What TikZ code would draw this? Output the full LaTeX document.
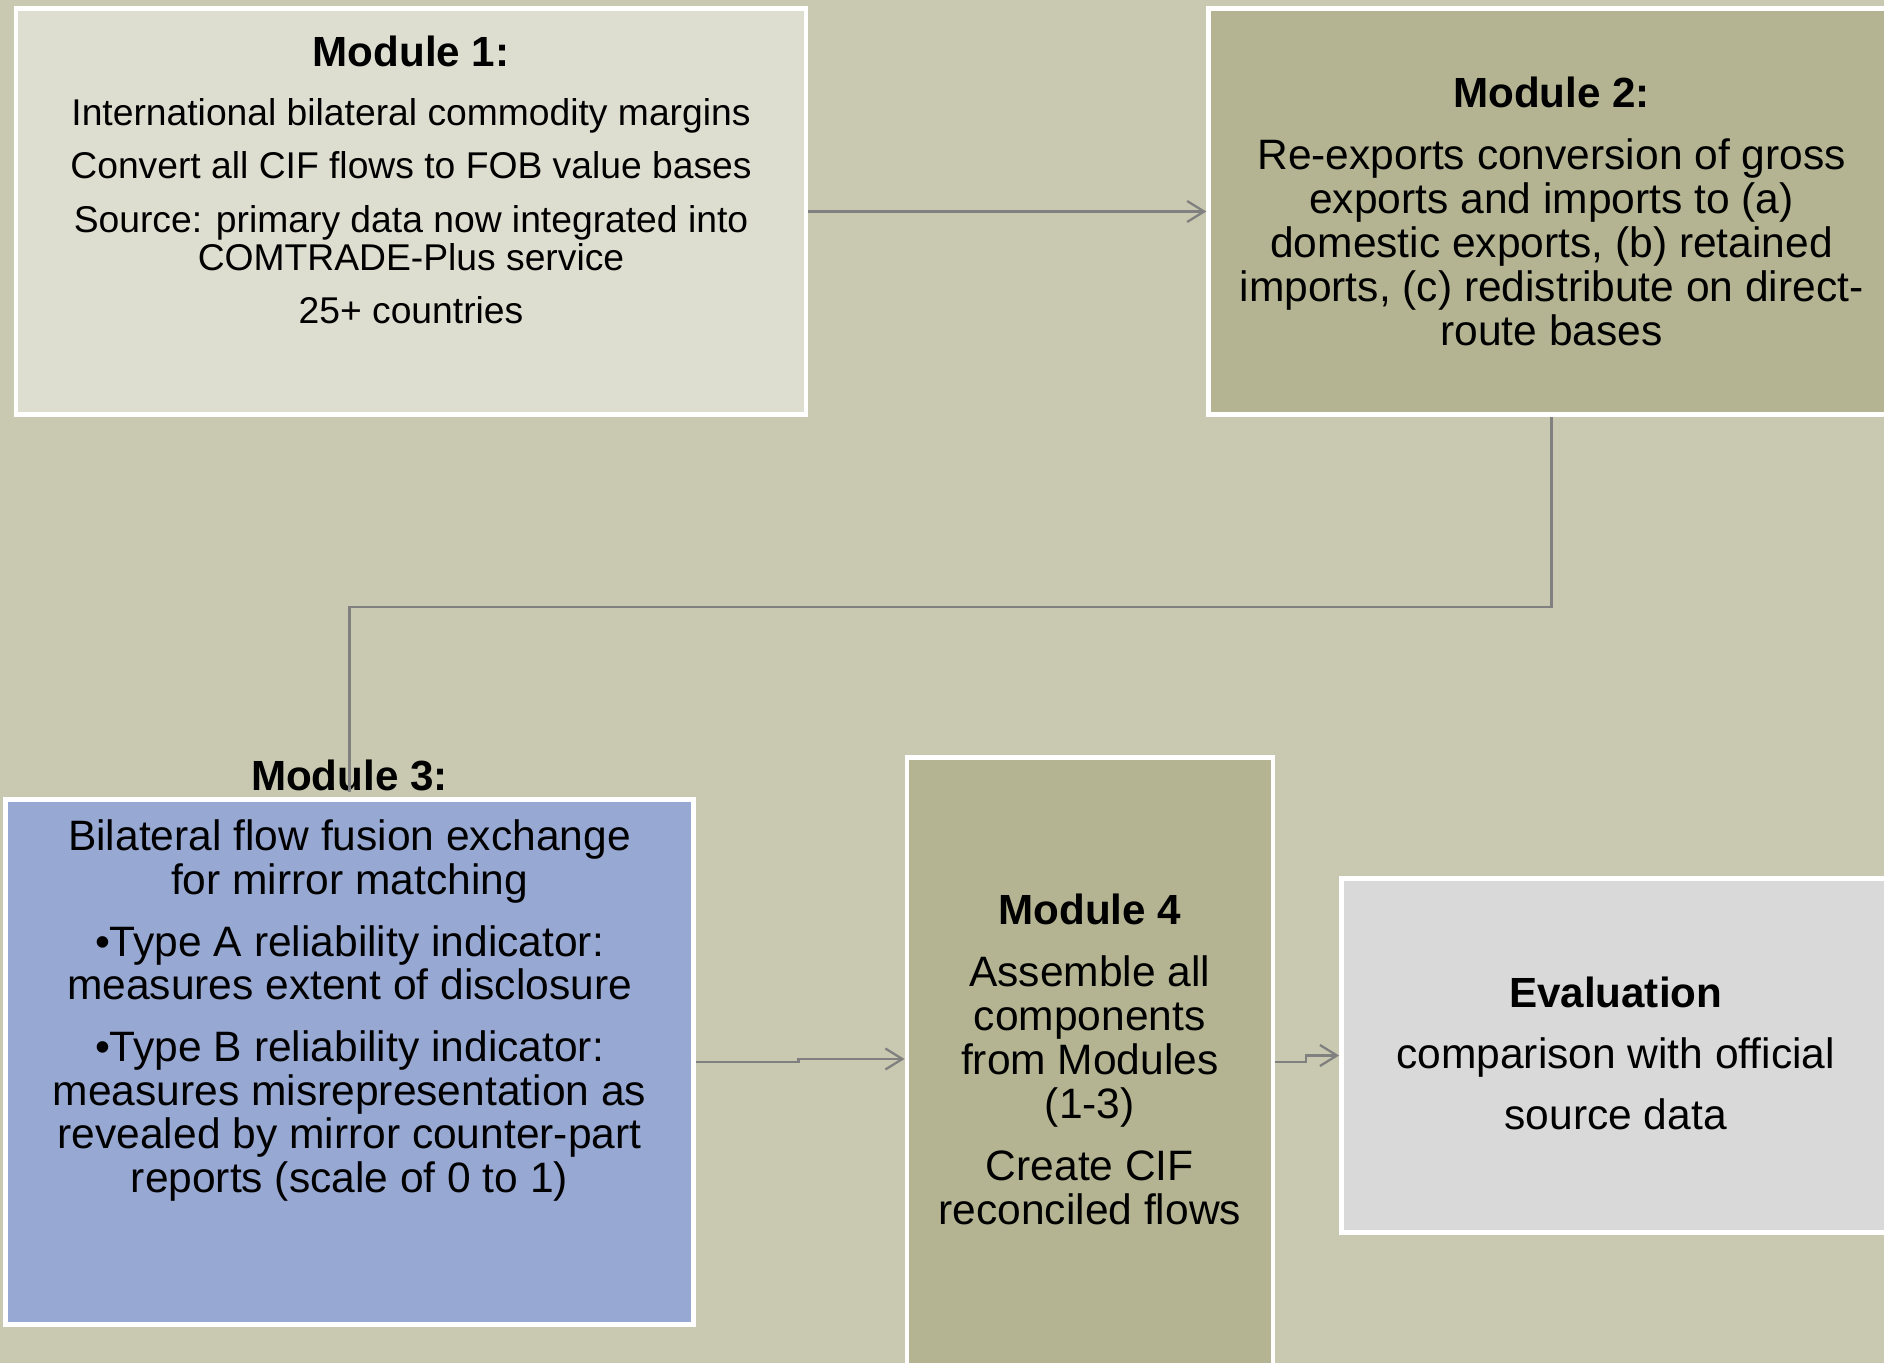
\documentclass[tikz,border=0pt]{standalone}
\usepackage{fontspec}
\setmainfont{Liberation Sans}
\usepackage{tikz}
\usetikzlibrary{arrows.meta, calc, positioning}

\definecolor{sage}{RGB}{200,201,176}
\definecolor{paleolive}{RGB}{221,222,208}
\definecolor{olive}{RGB}{180,180,146}
\definecolor{lavender}{RGB}{151,168,210}
\definecolor{lightgrey}{RGB}{217,217,217}
\definecolor{linegrey}{RGB}{128,128,128}

\newcommand{\mhead}[1]{{\fontsize{12}{12}\selectfont\bfseries #1}}

\begin{document}
\begin{tikzpicture}[>={Straight Barb[length=1.7mm, width=2.1mm]}, node distance=1cm]
	\tikzstyle{module} = [draw=white, line width=1.3pt, rectangle, align=center, inner sep=0pt]
	\tikzstyle{small} = [font=\fontsize{10.6}{10.9}\selectfont]
	\tikzstyle{body} = [font=\fontsize{12.1}{12.5}\selectfont]
	\tikzstyle{link} = [draw=linegrey, line width=0.65pt]

	\path[use as bounding box, fill=sage] (0,0) rectangle (18.84,-13.63);

	\begin{scope}
		\path[->, link]
			node[module, small, fill=paleolive, minimum width=7.9cm, minimum height=4.065cm, text depth=0.63cm] (m1) at (4.11,-2.115)
				{\mhead{Module 1:}\\[5.8pt]
				International bilateral commodity margins\\[4.3pt]
				Convert all CIF flows to FOB value bases\\[4.3pt]
				Source: primary data now integrated into\\
				COMTRADE-Plus service\\[4.3pt]
				25+ countries}
			node[module, body, fill=olive, minimum width=6.86cm, minimum height=4.065cm, right=3.98cm of m1] (m2)
				{\mhead{Module 2:}\\[5.3pt]
				Re-exports conversion of gross\\
				exports and imports to (a)\\
				domestic exports, (b) retained\\
				imports, (c) redistribute on direct-\\
				route bases}
			node[module, body, fill=lavender, minimum width=6.875cm, minimum height=5.255cm, text depth=1.11cm] (m3) at (3.495,-10.62)
				{Bilateral flow fusion exchange\\
				for mirror matching\\[4.9pt]
				\textbullet Type A reliability indicator:\\
				measures extent of disclosure\\[4.9pt]
				\textbullet Type B reliability indicator:\\
				measures misrepresentation as\\
				revealed by mirror counter-part\\
				reports (scale of 0 to 1)}
			node[inner sep=0pt, above=0.05cm of m3] (m3head) {\mhead{Module 3:}}
			node[module, body, fill=olive, minimum width=3.66cm, minimum height=6.085cm, text depth=0.064cm, right=2.09cm of m3] (m4)
				{\mhead{Module 4}\\[5.2pt]
				Assemble all\\
				components\\
				from Modules\\
				(1-3)\\[5.2pt]
				Create CIF\\
				reconciled flows}
			node[module, font=\fontsize{12.1}{17.4}\selectfont, fill=lightgrey, minimum width=5.485cm, minimum height=3.535cm, text depth=0.05cm, right=0.64cm of m4, yshift=0.065cm] (m5)
				{\mhead{Evaluation}\\
				comparison with official\\
				source data}

			(m1) edge (m2)
		;
		% flow from module 2 down to module 3
		\draw[link] (m2.south) -- ++(0,-1.9) -| (m3head.south);
		\draw[->, link] (m3.east) -- ++(1.03,0) |- ($(m4.west)+(0,0.03)$);
		\draw[->, link] (m4.east) -- ++(0.31,0) |- (m5.west);
	\end{scope}
\end{tikzpicture}
\end{document}
